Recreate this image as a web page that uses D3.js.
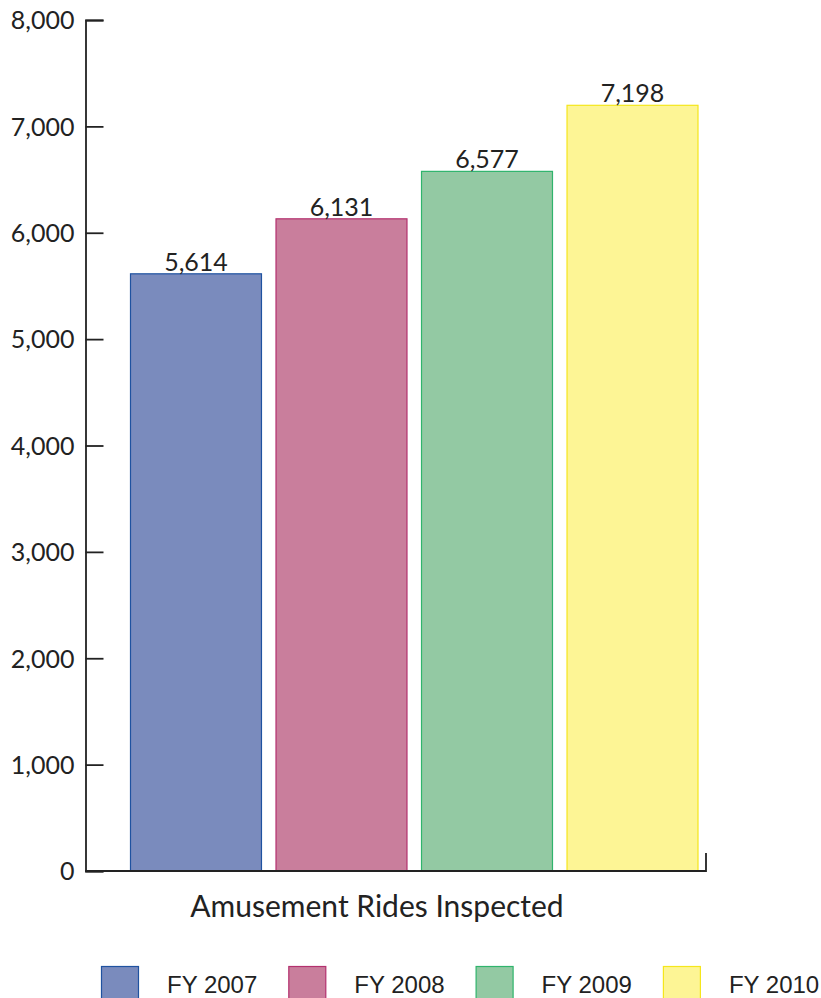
<!DOCTYPE html>
<html><head><meta charset="utf-8">
<script src="https://cdn.jsdelivr.net/npm/d3@7"></script>
<style>body{margin:0;background:#fff}svg{display:block}</style>
</head><body>
<div id="chart"></div>
<script>
const categories = ["FY 2007","FY 2008","FY 2009","FY 2010"];
const values = [5614, 6131, 6577, 7198];
const yTicks = [0,1000,2000,3000,4000,5000,6000,7000,8000];
const title = "Amusement Rides Inspected";
const fills = ["#7a8bbd","#c97e9c","#93c9a3","#fdf595"];
const strokes = ["#1f52a0","#b3306e","#2fb46c","#f5e61c"];

const W = 821, H = 998;
const svg = d3.select("#chart").append("svg").attr("width",W).attr("height",H);
const font = "Lato, 'Open Sans', sans-serif";

const y = d3.scaleLinear().domain([0,8000]).range([871,20]);
const x = d3.scaleBand().domain(categories).range([130,698.5]).paddingInner(0.093).paddingOuter(0);

// bars
svg.selectAll("rect.bar").data(values).enter().append("rect")
  .attr("x",(d,i)=>x(categories[i])+0.5)
  .attr("y",d=>y(d))
  .attr("width",x.bandwidth()-1)
  .attr("height",d=>y(0)-y(d))
  .attr("fill",(d,i)=>fills[i])
  .attr("stroke",(d,i)=>strokes[i])
  .attr("stroke-width",1.2);

// value labels
svg.selectAll("text.val").data(values).enter().append("text")
  .attr("x",(d,i)=>x(categories[i])+x.bandwidth()/2)
  .attr("y",d=>y(d)-3)
  .attr("text-anchor","middle")
  .attr("font-family",font).attr("font-size",25).attr("fill","#222")
  .text(d=>d3.format(",")(d));

// y axis
const yAxis = d3.axisLeft(y).tickValues(yTicks).tickFormat(d3.format(",")).tickSize(-18).tickPadding(11);
const gy = svg.append("g").attr("transform","translate(85.5,0)").call(yAxis);
gy.select(".domain").attr("stroke","#222").attr("stroke-width",1.8);
gy.selectAll(".tick line").attr("stroke","#222").attr("stroke-width",1.8);
gy.selectAll(".tick text").attr("font-family",font).attr("font-size",25).attr("fill","#222").attr("dy","0.35em");

// x baseline
svg.append("path").attr("d",`M85,${y(0)}H706V${y(0)-18}`).attr("fill","none").attr("stroke","#222").attr("stroke-width",1.8);

// title
svg.append("text").attr("x",377).attr("y",917).attr("text-anchor","middle")
  .attr("font-family",font).attr("font-size",30).attr("fill","#222").text(title);

// legend
const lg = svg.selectAll("g.leg").data(categories).enter().append("g")
  .attr("transform",(d,i)=>`translate(${101+i*187.3},966)`);
lg.append("rect").attr("x",0.5).attr("y",0.5).attr("width",37).attr("height",37)
  .attr("fill",(d,i)=>fills[i]).attr("stroke",(d,i)=>strokes[i]).attr("stroke-width",1.2);
lg.append("text").attr("x",66).attr("y",27).attr("font-family","'Liberation Sans', Arial, sans-serif")
  .attr("font-size",24).attr("fill","#222").text(d=>d);
</script>
</body></html>
